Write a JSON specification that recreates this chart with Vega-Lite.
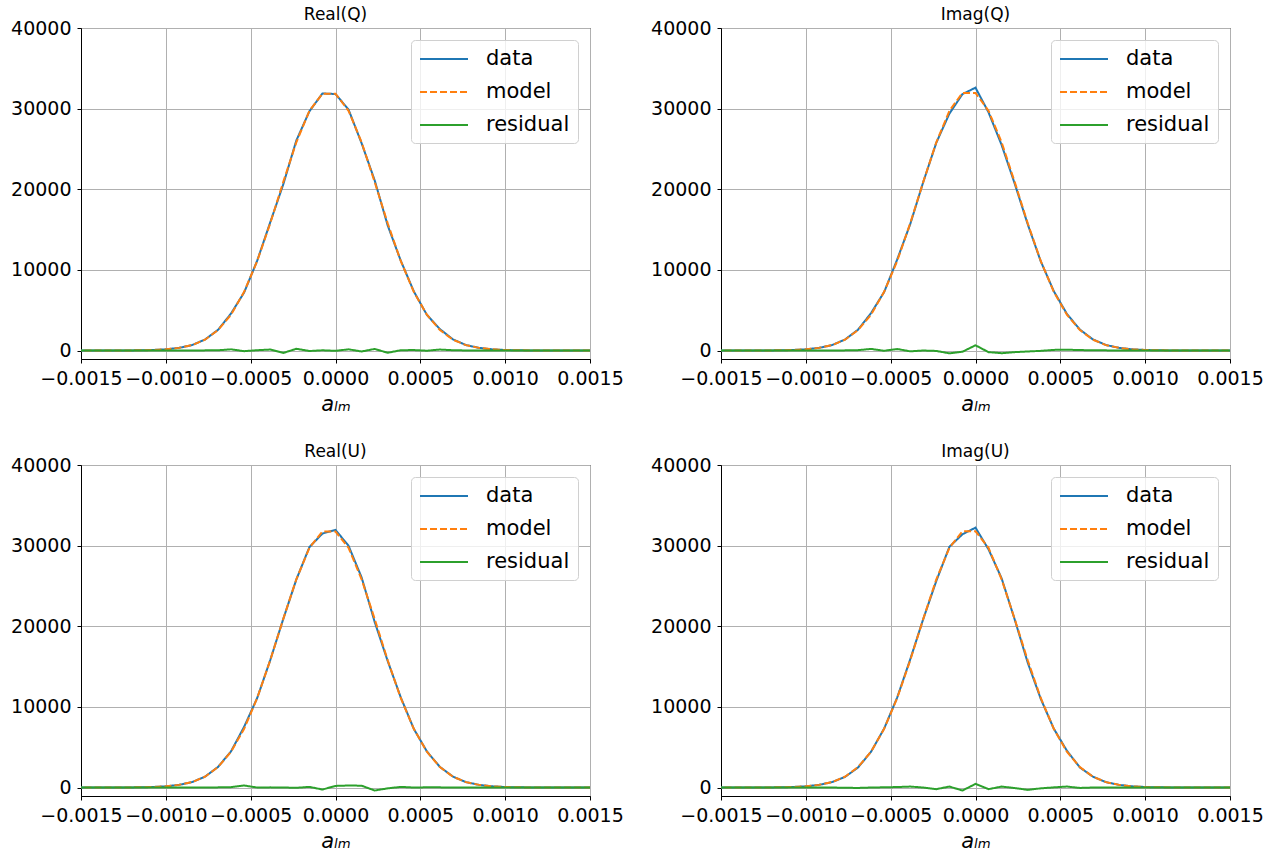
{
  "$schema": "https://vega.github.io/schema/vega-lite/v6.json",
  "padding": {"left": 10, "top": 5, "right": 5, "bottom": 0},
  "background": "white",
  "config": {
    "font": "DejaVu Sans",
    "view": {"stroke": "black", "strokeWidth": 1},
    "axis": {
      "domainColor": "black", "domainWidth": 1,
      "tickColor": "black", "tickSize": 4, "tickWidth": 1,
      "gridColor": "#b0b0b0", "gridWidth": 1,
      "labelFont": "DejaVu Sans", "labelFontSize": 19, "labelColor": "black", "labelPadding": 6,
      "titleFont": "DejaVu Sans", "titleFontSize": 21, "titleFontWeight": "normal", "titleFontStyle": "italic", "titleColor": "black", "titlePadding": 5
    },
    "title": {"font": "DejaVu Sans", "fontSize": 17, "fontWeight": "normal", "color": "black", "offset": -4.5},
    "legend": {
      "orient": "top-right", "offset": 12, "title": null,
      "symbolType": "M-1,0L3.8,0", "symbolSize": 400, "symbolStrokeWidth": 2,
      "labelFont": "DejaVu Sans", "labelFontSize": 21, "labelColor": "black", "labelOffset": 45,
      "fillColor": "rgba(255,255,255,0.8)", "strokeColor": "#d0d0d0", "cornerRadius": 4,
      "padding": 8, "rowPadding": 12
    }
  },
  "data": {"values": [
    {"p":"RQ","x":-0.0015385,"data":0,"model":0,"residual":0},
    {"p":"RQ","x":-0.0014615,"data":0,"model":0,"residual":0},
    {"p":"RQ","x":-0.0013846,"data":1,"model":1,"residual":0},
    {"p":"RQ","x":-0.0013077,"data":4,"model":4,"residual":0},
    {"p":"RQ","x":-0.0012308,"data":10,"model":10,"residual":0},
    {"p":"RQ","x":-0.0011538,"data":27,"model":27,"residual":0},
    {"p":"RQ","x":-0.0010769,"data":65,"model":65,"residual":0},
    {"p":"RQ","x":-0.001,"data":150,"model":150,"residual":0},
    {"p":"RQ","x":-0.0009231,"data":330,"model":330,"residual":0},
    {"p":"RQ","x":-0.0008462,"data":666,"model":666,"residual":0},
    {"p":"RQ","x":-0.0007692,"data":1365,"model":1345,"residual":20},
    {"p":"RQ","x":-0.0006923,"data":2564,"model":2534,"residual":30},
    {"p":"RQ","x":-0.0006154,"data":4599,"model":4449,"residual":150},
    {"p":"RQ","x":-0.0005385,"data":7200,"model":7280,"residual":-80},
    {"p":"RQ","x":-0.0004615,"data":11144,"model":11104,"residual":40},
    {"p":"RQ","x":-0.0003846,"data":15905,"model":15785,"residual":120},
    {"p":"RQ","x":-0.0003077,"data":20615,"model":20915,"residual":-300},
    {"p":"RQ","x":-0.0002308,"data":26051,"model":25831,"residual":220},
    {"p":"RQ","x":-0.0001538,"data":29673,"model":29733,"residual":-60},
    {"p":"RQ","x":-0.0000769,"data":31880,"model":31850,"residual":30},
    {"p":"RQ","x":0,"data":31810,"model":31850,"residual":-40},
    {"p":"RQ","x":0.0000769,"data":29883,"model":29733,"residual":150},
    {"p":"RQ","x":0.0001538,"data":25711,"model":25831,"residual":-120},
    {"p":"RQ","x":0.0002308,"data":21115,"model":20915,"residual":200},
    {"p":"RQ","x":0.0003077,"data":15505,"model":15785,"residual":-280},
    {"p":"RQ","x":0.0003846,"data":11144,"model":11104,"residual":40},
    {"p":"RQ","x":0.0004615,"data":7340,"model":7280,"residual":60},
    {"p":"RQ","x":0.0005385,"data":4429,"model":4449,"residual":-20},
    {"p":"RQ","x":0.0006154,"data":2654,"model":2534,"residual":120},
    {"p":"RQ","x":0.0006923,"data":1385,"model":1345,"residual":40},
    {"p":"RQ","x":0.0007692,"data":676,"model":666,"residual":10},
    {"p":"RQ","x":0.0008462,"data":330,"model":330,"residual":0},
    {"p":"RQ","x":0.0009231,"data":150,"model":150,"residual":0},
    {"p":"RQ","x":0.001,"data":65,"model":65,"residual":0},
    {"p":"RQ","x":0.0010769,"data":27,"model":27,"residual":0},
    {"p":"RQ","x":0.0011538,"data":10,"model":10,"residual":0},
    {"p":"RQ","x":0.0012308,"data":4,"model":4,"residual":0},
    {"p":"RQ","x":0.0013077,"data":1,"model":1,"residual":0},
    {"p":"RQ","x":0.0013846,"data":0,"model":0,"residual":0},
    {"p":"RQ","x":0.0014615,"data":0,"model":0,"residual":0},
    {"p":"RQ","x":0.0015385,"data":0,"model":0,"residual":0},

    {"p":"IQ","x":-0.0015385,"data":0,"model":0,"residual":0},
    {"p":"IQ","x":-0.0014615,"data":0,"model":0,"residual":0},
    {"p":"IQ","x":-0.0013846,"data":1,"model":1,"residual":0},
    {"p":"IQ","x":-0.0013077,"data":4,"model":4,"residual":0},
    {"p":"IQ","x":-0.0012308,"data":10,"model":10,"residual":0},
    {"p":"IQ","x":-0.0011538,"data":27,"model":27,"residual":0},
    {"p":"IQ","x":-0.0010769,"data":65,"model":65,"residual":0},
    {"p":"IQ","x":-0.001,"data":150,"model":150,"residual":0},
    {"p":"IQ","x":-0.0009231,"data":330,"model":330,"residual":0},
    {"p":"IQ","x":-0.0008462,"data":666,"model":666,"residual":0},
    {"p":"IQ","x":-0.0007692,"data":1365,"model":1345,"residual":20},
    {"p":"IQ","x":-0.0006923,"data":2584,"model":2534,"residual":50},
    {"p":"IQ","x":-0.0006154,"data":4649,"model":4449,"residual":200},
    {"p":"IQ","x":-0.0005385,"data":7250,"model":7280,"residual":-30},
    {"p":"IQ","x":-0.0004615,"data":11294,"model":11104,"residual":190},
    {"p":"IQ","x":-0.0003846,"data":15685,"model":15785,"residual":-100},
    {"p":"IQ","x":-0.0003077,"data":20915,"model":20915,"residual":0},
    {"p":"IQ","x":-0.0002308,"data":25781,"model":25831,"residual":-50},
    {"p":"IQ","x":-0.0001538,"data":29383,"model":29733,"residual":-350},
    {"p":"IQ","x":-0.0000769,"data":31800,"model":31950,"residual":-150},
    {"p":"IQ","x":0,"data":32600,"model":31950,"residual":650},
    {"p":"IQ","x":0.0000769,"data":29533,"model":29733,"residual":-200},
    {"p":"IQ","x":0.0001538,"data":25501,"model":25831,"residual":-330},
    {"p":"IQ","x":0.0002308,"data":20715,"model":20915,"residual":-200},
    {"p":"IQ","x":0.0003077,"data":15665,"model":15785,"residual":-120},
    {"p":"IQ","x":0.0003846,"data":11064,"model":11104,"residual":-40},
    {"p":"IQ","x":0.0004615,"data":7360,"model":7280,"residual":80},
    {"p":"IQ","x":0.0005385,"data":4549,"model":4449,"residual":100},
    {"p":"IQ","x":0.0006154,"data":2594,"model":2534,"residual":60},
    {"p":"IQ","x":0.0006923,"data":1375,"model":1345,"residual":30},
    {"p":"IQ","x":0.0007692,"data":686,"model":666,"residual":20},
    {"p":"IQ","x":0.0008462,"data":330,"model":330,"residual":0},
    {"p":"IQ","x":0.0009231,"data":150,"model":150,"residual":0},
    {"p":"IQ","x":0.001,"data":65,"model":65,"residual":0},
    {"p":"IQ","x":0.0010769,"data":27,"model":27,"residual":0},
    {"p":"IQ","x":0.0011538,"data":10,"model":10,"residual":0},
    {"p":"IQ","x":0.0012308,"data":4,"model":4,"residual":0},
    {"p":"IQ","x":0.0013077,"data":1,"model":1,"residual":0},
    {"p":"IQ","x":0.0013846,"data":0,"model":0,"residual":0},
    {"p":"IQ","x":0.0014615,"data":0,"model":0,"residual":0},
    {"p":"IQ","x":0.0015385,"data":0,"model":0,"residual":0},

    {"p":"RU","x":-0.0015385,"data":0,"model":0,"residual":0},
    {"p":"RU","x":-0.0014615,"data":0,"model":0,"residual":0},
    {"p":"RU","x":-0.0013846,"data":1,"model":1,"residual":0},
    {"p":"RU","x":-0.0013077,"data":4,"model":4,"residual":0},
    {"p":"RU","x":-0.0012308,"data":10,"model":10,"residual":0},
    {"p":"RU","x":-0.0011538,"data":27,"model":27,"residual":0},
    {"p":"RU","x":-0.0010769,"data":65,"model":65,"residual":0},
    {"p":"RU","x":-0.001,"data":150,"model":150,"residual":0},
    {"p":"RU","x":-0.0009231,"data":330,"model":330,"residual":0},
    {"p":"RU","x":-0.0008462,"data":666,"model":666,"residual":0},
    {"p":"RU","x":-0.0007692,"data":1345,"model":1345,"residual":0},
    {"p":"RU","x":-0.0006923,"data":2554,"model":2534,"residual":20},
    {"p":"RU","x":-0.0006154,"data":4499,"model":4449,"residual":50},
    {"p":"RU","x":-0.0005385,"data":7530,"model":7280,"residual":250},
    {"p":"RU","x":-0.0004615,"data":11104,"model":11104,"residual":0},
    {"p":"RU","x":-0.0003846,"data":15805,"model":15785,"residual":20},
    {"p":"RU","x":-0.0003077,"data":20915,"model":20915,"residual":0},
    {"p":"RU","x":-0.0002308,"data":25801,"model":25831,"residual":-30},
    {"p":"RU","x":-0.0001538,"data":29813,"model":29733,"residual":80},
    {"p":"RU","x":-0.0000769,"data":31500,"model":31750,"residual":-250},
    {"p":"RU","x":0,"data":31950,"model":31750,"residual":200},
    {"p":"RU","x":0.0000769,"data":29983,"model":29733,"residual":250},
    {"p":"RU","x":0.0001538,"data":26061,"model":25831,"residual":230},
    {"p":"RU","x":0.0002308,"data":20545,"model":20915,"residual":-370},
    {"p":"RU","x":0.0003077,"data":15685,"model":15785,"residual":-100},
    {"p":"RU","x":0.0003846,"data":11184,"model":11104,"residual":80},
    {"p":"RU","x":0.0004615,"data":7280,"model":7280,"residual":0},
    {"p":"RU","x":0.0005385,"data":4479,"model":4449,"residual":30},
    {"p":"RU","x":0.0006154,"data":2554,"model":2534,"residual":20},
    {"p":"RU","x":0.0006923,"data":1355,"model":1345,"residual":10},
    {"p":"RU","x":0.0007692,"data":666,"model":666,"residual":0},
    {"p":"RU","x":0.0008462,"data":330,"model":330,"residual":0},
    {"p":"RU","x":0.0009231,"data":150,"model":150,"residual":0},
    {"p":"RU","x":0.001,"data":65,"model":65,"residual":0},
    {"p":"RU","x":0.0010769,"data":27,"model":27,"residual":0},
    {"p":"RU","x":0.0011538,"data":10,"model":10,"residual":0},
    {"p":"RU","x":0.0012308,"data":4,"model":4,"residual":0},
    {"p":"RU","x":0.0013077,"data":1,"model":1,"residual":0},
    {"p":"RU","x":0.0013846,"data":0,"model":0,"residual":0},
    {"p":"RU","x":0.0014615,"data":0,"model":0,"residual":0},
    {"p":"RU","x":0.0015385,"data":0,"model":0,"residual":0},

    {"p":"IU","x":-0.0015385,"data":0,"model":0,"residual":0},
    {"p":"IU","x":-0.0014615,"data":0,"model":0,"residual":0},
    {"p":"IU","x":-0.0013846,"data":1,"model":1,"residual":0},
    {"p":"IU","x":-0.0013077,"data":4,"model":4,"residual":0},
    {"p":"IU","x":-0.0012308,"data":10,"model":10,"residual":0},
    {"p":"IU","x":-0.0011538,"data":27,"model":27,"residual":0},
    {"p":"IU","x":-0.0010769,"data":65,"model":65,"residual":0},
    {"p":"IU","x":-0.001,"data":150,"model":150,"residual":0},
    {"p":"IU","x":-0.0009231,"data":330,"model":330,"residual":0},
    {"p":"IU","x":-0.0008462,"data":666,"model":666,"residual":0},
    {"p":"IU","x":-0.0007692,"data":1315,"model":1345,"residual":-30},
    {"p":"IU","x":-0.0006923,"data":2484,"model":2534,"residual":-50},
    {"p":"IU","x":-0.0006154,"data":4449,"model":4449,"residual":0},
    {"p":"IU","x":-0.0005385,"data":7310,"model":7280,"residual":30},
    {"p":"IU","x":-0.0004615,"data":11164,"model":11104,"residual":60},
    {"p":"IU","x":-0.0003846,"data":15905,"model":15785,"residual":120},
    {"p":"IU","x":-0.0003077,"data":20915,"model":20915,"residual":0},
    {"p":"IU","x":-0.0002308,"data":25631,"model":25831,"residual":-200},
    {"p":"IU","x":-0.0001538,"data":29853,"model":29733,"residual":120},
    {"p":"IU","x":-0.0000769,"data":31410,"model":31780,"residual":-370},
    {"p":"IU","x":0,"data":32230,"model":31780,"residual":450},
    {"p":"IU","x":0.0000769,"data":29533,"model":29733,"residual":-200},
    {"p":"IU","x":0.0001538,"data":25951,"model":25831,"residual":120},
    {"p":"IU","x":0.0002308,"data":20855,"model":20915,"residual":-60},
    {"p":"IU","x":0.0003077,"data":15495,"model":15785,"residual":-290},
    {"p":"IU","x":0.0003846,"data":11004,"model":11104,"residual":-100},
    {"p":"IU","x":0.0004615,"data":7300,"model":7280,"residual":20},
    {"p":"IU","x":0.0005385,"data":4569,"model":4449,"residual":120},
    {"p":"IU","x":0.0006154,"data":2484,"model":2534,"residual":-50},
    {"p":"IU","x":0.0006923,"data":1345,"model":1345,"residual":0},
    {"p":"IU","x":0.0007692,"data":666,"model":666,"residual":0},
    {"p":"IU","x":0.0008462,"data":330,"model":330,"residual":0},
    {"p":"IU","x":0.0009231,"data":150,"model":150,"residual":0},
    {"p":"IU","x":0.001,"data":65,"model":65,"residual":0},
    {"p":"IU","x":0.0010769,"data":27,"model":27,"residual":0},
    {"p":"IU","x":0.0011538,"data":10,"model":10,"residual":0},
    {"p":"IU","x":0.0012308,"data":4,"model":4,"residual":0},
    {"p":"IU","x":0.0013077,"data":1,"model":1,"residual":0},
    {"p":"IU","x":0.0013846,"data":0,"model":0,"residual":0},
    {"p":"IU","x":0.0014615,"data":0,"model":0,"residual":0},
    {"p":"IU","x":0.0015385,"data":0,"model":0,"residual":0}
  ]},
  "transform": [{"fold": ["data", "model", "residual"], "as": ["series", "value"]}],
  "columns": 2,
  "bounds": "flush",
  "spacing": {"row": 106, "column": 131},
  "resolve": {"legend": {"color": "independent", "strokeDash": "independent"}},
  "concat": [
    {
      "title": "Real(Q)",
      "transform": [{"filter": "datum.p === 'RQ'"}],
      "width": 509, "height": 331,
      "mark": {"type": "line", "clip": true, "strokeWidth": 2},
      "encoding": {
        "x": {"field": "x", "type": "quantitative", "scale": {"domain": [-0.0015, 0.0015], "nice": false, "zero": false},
              "axis": {"values": [-0.0015, -0.001, -0.0005, 0, 0.0005, 0.001, 0.0015], "format": ".4f", "title": "aₗₘ", "labelOverlap": false, "labelFlush": false, "labelBound": false}},
        "y": {"field": "value", "type": "quantitative", "scale": {"domain": [-1050, 40000], "nice": false, "zero": false},
              "axis": {"values": [0, 10000, 20000, 30000, 40000], "format": "d", "title": null, "labelOverlap": false}},
        "color": {"field": "series", "type": "nominal", "scale": {"domain": ["data", "model", "residual"], "range": ["#1f77b4", "#ff7f0e", "#2ca02c"]}},
        "strokeDash": {"field": "series", "type": "nominal", "scale": {"domain": ["data", "model", "residual"], "range": [[1, 0], [7, 3], [1, 0]]}}
      }
    },
    {
      "title": "Imag(Q)",
      "transform": [{"filter": "datum.p === 'IQ'"}],
      "width": 509, "height": 331,
      "mark": {"type": "line", "clip": true, "strokeWidth": 2},
      "encoding": {
        "x": {"field": "x", "type": "quantitative", "scale": {"domain": [-0.0015, 0.0015], "nice": false, "zero": false},
              "axis": {"values": [-0.0015, -0.001, -0.0005, 0, 0.0005, 0.001, 0.0015], "format": ".4f", "title": "aₗₘ", "labelOverlap": false, "labelFlush": false, "labelBound": false}},
        "y": {"field": "value", "type": "quantitative", "scale": {"domain": [-1050, 40000], "nice": false, "zero": false},
              "axis": {"values": [0, 10000, 20000, 30000, 40000], "format": "d", "title": null, "labelOverlap": false}},
        "color": {"field": "series", "type": "nominal", "scale": {"domain": ["data", "model", "residual"], "range": ["#1f77b4", "#ff7f0e", "#2ca02c"]}},
        "strokeDash": {"field": "series", "type": "nominal", "scale": {"domain": ["data", "model", "residual"], "range": [[1, 0], [7, 3], [1, 0]]}}
      }
    },
    {
      "title": "Real(U)",
      "transform": [{"filter": "datum.p === 'RU'"}],
      "width": 509, "height": 331,
      "mark": {"type": "line", "clip": true, "strokeWidth": 2},
      "encoding": {
        "x": {"field": "x", "type": "quantitative", "scale": {"domain": [-0.0015, 0.0015], "nice": false, "zero": false},
              "axis": {"values": [-0.0015, -0.001, -0.0005, 0, 0.0005, 0.001, 0.0015], "format": ".4f", "title": "aₗₘ", "labelOverlap": false, "labelFlush": false, "labelBound": false}},
        "y": {"field": "value", "type": "quantitative", "scale": {"domain": [-1050, 40000], "nice": false, "zero": false},
              "axis": {"values": [0, 10000, 20000, 30000, 40000], "format": "d", "title": null, "labelOverlap": false}},
        "color": {"field": "series", "type": "nominal", "scale": {"domain": ["data", "model", "residual"], "range": ["#1f77b4", "#ff7f0e", "#2ca02c"]}},
        "strokeDash": {"field": "series", "type": "nominal", "scale": {"domain": ["data", "model", "residual"], "range": [[1, 0], [7, 3], [1, 0]]}}
      }
    },
    {
      "title": "Imag(U)",
      "transform": [{"filter": "datum.p === 'IU'"}],
      "width": 509, "height": 331,
      "mark": {"type": "line", "clip": true, "strokeWidth": 2},
      "encoding": {
        "x": {"field": "x", "type": "quantitative", "scale": {"domain": [-0.0015, 0.0015], "nice": false, "zero": false},
              "axis": {"values": [-0.0015, -0.001, -0.0005, 0, 0.0005, 0.001, 0.0015], "format": ".4f", "title": "aₗₘ", "labelOverlap": false, "labelFlush": false, "labelBound": false}},
        "y": {"field": "value", "type": "quantitative", "scale": {"domain": [-1050, 40000], "nice": false, "zero": false},
              "axis": {"values": [0, 10000, 20000, 30000, 40000], "format": "d", "title": null, "labelOverlap": false}},
        "color": {"field": "series", "type": "nominal", "scale": {"domain": ["data", "model", "residual"], "range": ["#1f77b4", "#ff7f0e", "#2ca02c"]}},
        "strokeDash": {"field": "series", "type": "nominal", "scale": {"domain": ["data", "model", "residual"], "range": [[1, 0], [7, 3], [1, 0]]}}
      }
    }
  ]
}
